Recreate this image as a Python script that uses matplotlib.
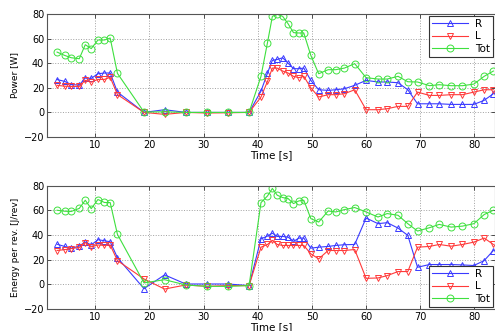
import matplotlib
matplotlib.use("Agg")
import matplotlib.pyplot as plt

# time axis [s]
t = [2.95, 4.35, 5.58, 7.05, 8.16, 9.26, 10.5, 11.7, 12.76, 14.1,
     19.0, 22.8, 26.7, 30.6, 34.5, 38.4,
     40.6, 41.8, 42.7, 43.6, 44.6, 45.6, 46.6, 47.6, 48.5, 49.8,
     51.25, 53.0, 54.4, 56.0, 57.9, 60.0, 62.2, 63.9, 65.9, 67.7,
     69.5, 71.7, 73.5, 75.7, 77.8, 79.9, 81.8, 83.5]

# Power [W]
power_R = [26.7, 25.2, 22.6, 22.2, 28.0, 27.6, 31.4, 32.0, 32.0, 16.5,
           0.0, 2.2, 0.0, 0.0, 0.0, 0.0,
           17.3, 32.0, 42.3, 43.0, 44.4, 40.0, 35.5, 35.5, 36.0, 26.0,
           18.4, 17.9, 18.4, 19.2, 22.0, 26.0, 24.7, 24.7, 24.1, 18.4,
           7.0, 7.0, 7.0, 6.5, 6.5, 6.5, 9.8, 15.2]
power_L = [22.0, 21.3, 21.1, 21.1, 26.0, 24.6, 26.8, 26.8, 28.5, 14.5,
           0.0, -1.6, 0.0, -0.5, -0.3, 0.0,
           12.5, 25.2, 36.0, 36.0, 33.6, 32.0, 29.3, 28.2, 29.3, 20.0,
           12.5, 14.4, 14.4, 15.2, 18.4, 2.2, 2.2, 3.0, 4.9, 4.9,
           16.5, 13.8, 13.8, 14.4, 14.4, 16.5, 18.4, 18.4]
power_Tot = [49.0, 46.3, 44.4, 43.6, 55.0, 51.8, 58.8, 58.8, 60.4, 31.7,
             0.3, 0.5, 0.0, 0.0, 0.0, 0.0,
             29.3, 56.7, 78.0, 79.7, 78.0, 72.0, 64.8, 64.5, 64.5, 46.3,
             31.4, 34.7, 34.7, 36.0, 39.6, 28.2, 27.1, 27.1, 29.3, 24.9,
             24.7, 21.7, 22.5, 21.7, 21.7, 23.0, 29.3, 33.6]

# Energy per revolution [J/rev]
energy_R = [32.6, 30.8, 29.2, 31.2, 34.3, 32.0, 36.3, 35.4, 34.6, 21.7,
            -3.5, 7.7, 0.3, 0.3, 0.3, -1.0,
            37.0, 39.2, 41.6, 38.9, 38.9, 38.4, 34.9, 37.6, 37.6, 29.4,
            30.2, 30.8, 31.6, 32.2, 32.4, 53.9, 49.3, 50.1, 45.7, 39.8,
            13.9, 16.1, 16.1, 16.1, 15.8, 15.3, 19.3, 27.5]
energy_L = [27.5, 28.2, 29.1, 30.0, 33.9, 30.5, 32.0, 31.6, 32.0, 19.3,
            4.4, -3.8, -0.5, -1.6, -1.0, -1.0,
            30.2, 32.4, 35.7, 32.4, 31.6, 31.6, 31.6, 31.6, 31.6, 24.8,
            20.7, 27.5, 27.5, 27.5, 28.3, 4.9, 5.2, 7.1, 10.4, 10.4,
            30.2, 30.8, 32.4, 31.0, 32.4, 34.3, 37.6, 32.4]
energy_Tot = [60.2, 59.4, 59.2, 61.7, 68.3, 61.5, 68.9, 66.5, 66.4, 40.6,
              1.2, 3.8, -0.5, -1.6, -1.6, -1.0,
              66.4, 71.8, 77.9, 72.4, 70.5, 69.7, 65.6, 67.8, 68.3, 53.4,
              50.6, 59.6, 58.8, 60.7, 62.4, 58.8, 54.7, 57.5, 56.1, 49.3,
              43.3, 46.0, 48.7, 46.5, 47.3, 49.3, 56.7, 60.2]

series_labels = ["R", "L", "Tot"]
xticks = [10, 20, 30, 40, 50, 60, 70, 80]
yticks = [-20, 0, 20, 40, 60, 80]

colors = ["#3a3aff", "#ff3a3a", "#3ee03e"]
markers = ["^", "v", "o"]

plt.rcParams["font.family"] = ["DejaVu Sans"]
fig = plt.figure(figsize=(4.95, 3.31), dpi=100)
ax1 = fig.add_axes([0.095, 0.586, 0.905, 0.372])
ax2 = fig.add_axes([0.095, 0.0665, 0.905, 0.372])

def style(ax, ylabel):
    ax.set_xlim(1.1, 83.8)
    ax.set_ylim(-20, 80)
    ax.set_xticks(xticks)
    ax.set_yticks(yticks)
    ax.grid(True, linestyle=":", color="#a0a0a0", linewidth=0.7)
    ax.tick_params(direction="in", top=True, right=True, labelsize=7,
                   length=3, width=0.6, colors="#333333", labelcolor="black",
                   pad=2)
    for s in ax.spines.values():
        s.set_color("#555555")
        s.set_linewidth(0.8)
    ax.set_xlabel("Time [s]", fontsize=7.5, labelpad=0)
    ax.set_ylabel(ylabel, fontsize=6.5, labelpad=3)

for ax, data, ylabel in [(ax1, [power_R, power_L, power_Tot], "Power [W]"),
                         (ax2, [energy_R, energy_L, energy_Tot], "Energy per rev. [J/rev]")]:
    for y, c, m, lab in zip(data, colors, markers, series_labels):
        ax.plot(t, y, color=c, marker=m, markersize=5, markerfacecolor="none",
                markeredgecolor=c, markeredgewidth=0.7, linewidth=0.8, label=lab)
    style(ax, ylabel)

leg_kw = dict(fontsize=7.5, handlelength=3.4, borderaxespad=0, fancybox=False,
              edgecolor="#333333", framealpha=1, borderpad=0.3, labelspacing=0.25,
              handletextpad=0.7)
l1 = ax1.legend(loc="upper right", bbox_to_anchor=(0.996, 0.985), **leg_kw)
l2 = ax2.legend(loc="lower right", bbox_to_anchor=(0.996, 0.016), **leg_kw)
for l in (l1, l2):
    l.get_frame().set_linewidth(0.8)

fig.savefig("out.png", dpi=100)
